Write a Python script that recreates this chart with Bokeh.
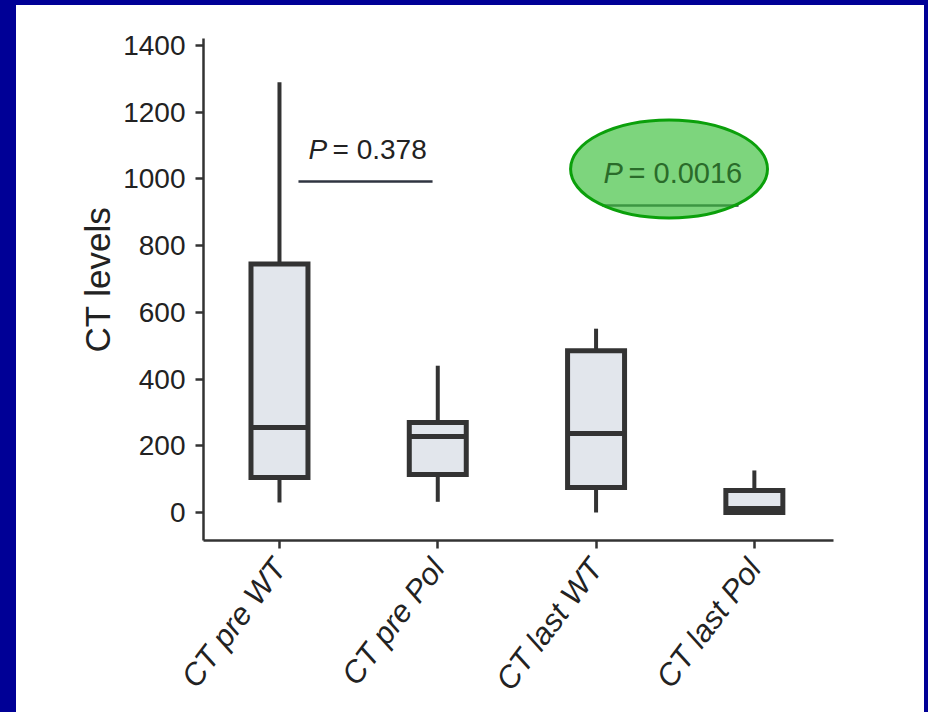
import math
from bokeh.plotting import figure
from bokeh.models import Range1d, FixedTicker, ColumnDataSource, Title
from bokeh.core.properties import value
from bokeh.embed import file_html
from bokeh.resources import INLINE

# ---------------- data ----------------
categories = ["CT pre WT", "CT pre Pol", "CT last WT", "CT last Pol"]
whisker_low = [30, 32, 0, 0]
q1 = [105, 114, 75, 0]
median = [255, 228, 237, 12]
q3 = [745, 270, 485, 66]
whisker_high = [1290, 440, 551, 126]

y_ticks = [0, 200, 400, 600, 800, 1000, 1200, 1400]
y_title = "CT levels"

p_values = ["0.378", "0.0016"]

# ---------------- style / layout ----------------
DARK = "#333333"
FILL = "#e2e6ec"
FONT = "Liberation Sans"
TXT = "#222222"
BOX_W = 0.36

xs = list(range(1, len(categories) + 1))
src = ColumnDataSource(dict(
    x=xs,
    x0=[x - BOX_W / 2 for x in xs],
    x1=[x + BOX_W / 2 for x in xs],
    lo=whisker_low, q1=q1, med=median, q3=q3, hi=whisker_high,
))

p = figure(width=908, height=707, output_backend="svg", toolbar_location=None,
           x_range=Range1d(0.52, 4.5), y_range=Range1d(-84, 1421),
           min_border_left=187, min_border_right=91,
           min_border_top=33, min_border_bottom=172)

p.styles = {"background-color": "white"}
p.background_fill_color = "white"
p.border_fill_color = "white"
p.outline_line_color = None
p.grid.visible = False

# whiskers
p.segment(x0="x", y0="q3", x1="x", y1="hi", source=src, line_color=DARK, line_width=4)
p.segment(x0="x", y0="lo", x1="x", y1="q1", source=src, line_color=DARK, line_width=4)
# boxes
p.vbar(x="x", bottom="q1", top="q3", width=BOX_W, source=src,
       fill_color=FILL, line_color=DARK, line_width=5, line_join="miter")
# medians
p.segment(x0="x0", y0="med", x1="x1", y1="med", source=src, line_color=DARK, line_width=5)

# ---------------- axes ----------------
for ax in (p.xaxis[0], p.yaxis[0]):
    ax.axis_line_color = DARK
    ax.axis_line_width = 2.5
    ax.major_tick_line_color = DARK
    ax.major_tick_line_width = 2.5
    ax.major_tick_in = 0
    ax.major_tick_out = 8
    ax.minor_tick_line_color = None
    ax.major_label_text_font = FONT
    ax.major_label_text_font_size = "28px"
    ax.major_label_text_color = TXT

p.yaxis.ticker = FixedTicker(ticks=y_ticks)
p.yaxis.major_label_standoff = 10

# y-axis title (left-side title, anchored from the bottom so it can be placed precisely)
p.add_layout(Title(text=y_title, align="left", offset=188, standoff=8,
                   text_font=FONT, text_font_size="35px", text_font_style="normal",
                   text_color=TXT), "left")

p.xaxis.ticker = FixedTicker(ticks=xs)
p.xaxis.major_label_overrides = {x: c for x, c in zip(xs, categories)}
p.xaxis.major_label_orientation = math.radians(53)
p.xaxis.major_label_text_font_style = "italic"
p.xaxis.major_label_text_font_size = "31px"
p.xaxis.major_label_standoff = 14

# ---------------- significance annotations ----------------
# comparison 1: pre WT vs pre Pol
p.segment(x0=[1.12], y0=[992], x1=[1.967], y1=[992], line_color="#2f3440", line_width=2.5)
p.text(x=[1.183], y=[1088], text=["P"], text_font=value(FONT), text_font_size=value("28px"),
       text_font_style=value("italic"), text_color=TXT, text_baseline="alphabetic", text_align="left")
p.text(x=[1.335], y=[1088], text=["= " + p_values[0]], text_font=value(FONT), text_font_size=value("28px"),
       text_color=TXT, text_baseline="alphabetic", text_align="left")

# comparison 2: last WT vs last Pol (underline sits beneath the translucent highlight)
p.segment(x0=[3.04], y0=[920], x1=[3.90], y1=[920], line_color="#2f3440", line_width=2.5)

# green highlight ellipse
p.ellipse(x=[3.461], y=[1030], width=1.244, height=294,
          fill_color="#42c242", fill_alpha=0.69, line_color="#0ba00b", line_width=3)

GREEN_TXT = "#2a6b2a"
p.text(x=[3.047], y=[1019], text=["P"], text_font=value(FONT), text_font_size=value("29px"),
       text_font_style=value("italic"), text_color=GREEN_TXT, text_baseline="alphabetic", text_align="left")
p.text(x=[3.205], y=[1019], text=["= " + p_values[1]], text_font=value(FONT), text_font_size=value("29px"),
       text_color=GREEN_TXT, text_baseline="alphabetic", text_align="left")

html = file_html(p, INLINE)
i = html.rfind("<body")
j = html.find(">", i)
html = html[:i] + '<body style="margin:5px 0 0 16px;background:#000096;overflow:hidden;">' + html[j + 1:]
open("out.html", "w").write(html)
